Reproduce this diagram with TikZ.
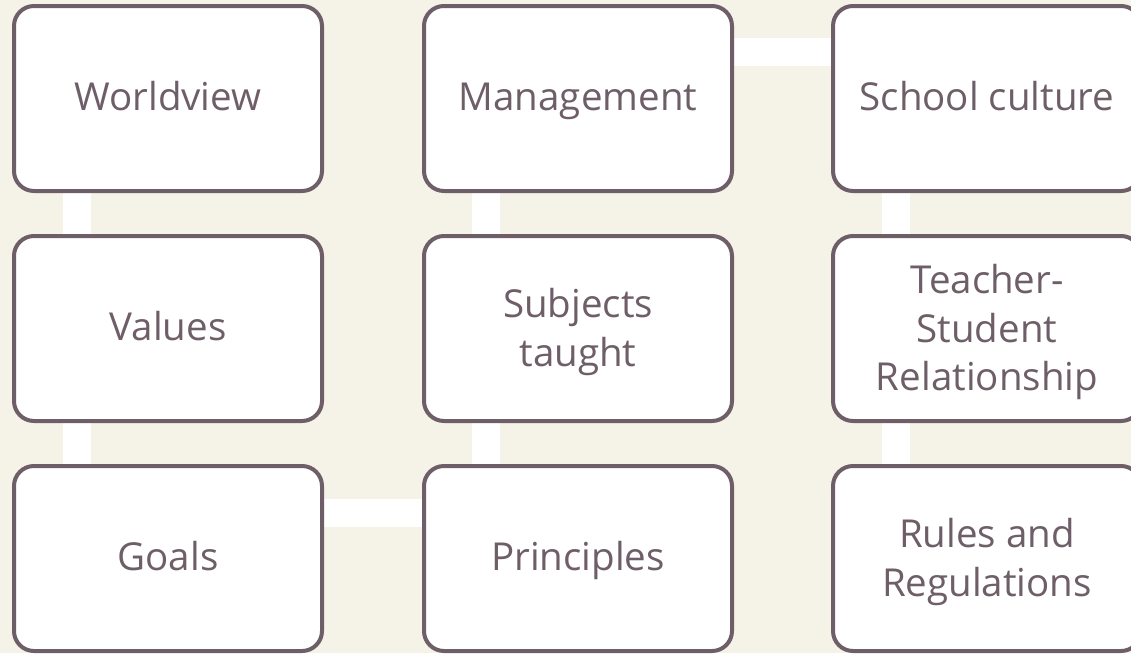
\documentclass[tikz,border=0pt]{standalone}
\usepackage{fontspec}
\setmainfont{Open Sans}
\definecolor{bgc}{HTML}{F5F2E7}
\definecolor{edge}{HTML}{6E5E68}
\pgfdeclarelayer{canvas}
\pgfdeclarelayer{links}
\pgfsetlayers{canvas,links,main}
\begin{document}
\begin{tikzpicture}[x=1pt,y=-1pt,
  box/.style={draw=edge,line width=4pt,fill=white,rounded corners=20pt,
    minimum width=308pt,minimum height=185pt,inner sep=0pt,
    text=edge,font=\fontsize{38.5}{48.5}\selectfont,align=center},
  oneline/.style={text height=29pt,text depth=6pt},
  multi/.style={text depth=2pt},
  link/.style={draw=white,line width=28pt}]
\useasboundingbox (0,0) rectangle (1131,653);
\clip (0,0) rectangle (1131,653);
\begin{pgfonlayer}{canvas}
\fill[bgc] (0,0) rectangle (1131,653);
\end{pgfonlayer}
\node[box,oneline] (world) at (168,98.5) {Worldview};
\node[box,oneline] (values) at (168,328.5) {Values};
\node[box,oneline] (goals) at (168,558.5) {Goals};
\node[box,oneline] (princ) at (578,558.5) {Principles};
\node[box,multi] (subj) at (578,328.5) {Subjects\\taught};
\node[box,oneline] (manage) at (578,98.5) {Management};
\node[box,oneline] (culture) at (987,98.5) {School culture};
\node[box,multi] (teach) at (987,328.5) {Teacher-\\Student\\Relationship};
\node[box,multi] (rules) at (987,558.5) {Rules and\\Regulations};
\coordinate (c1a) at ([xshift=-91pt]world.south);
\coordinate (c1b) at ([xshift=-91pt]values.north);
\coordinate (c1c) at ([xshift=-91pt]values.south);
\coordinate (c1d) at ([xshift=-91pt]goals.north);
\coordinate (c2a) at ([yshift=45.5pt]goals.east);
\coordinate (c2b) at ([yshift=45.5pt]princ.west);
\coordinate (c3a) at ([xshift=-92pt]princ.north);
\coordinate (c3b) at ([xshift=-92pt]subj.south);
\coordinate (c3c) at ([xshift=-92pt]subj.north);
\coordinate (c3d) at ([xshift=-92pt]manage.south);
\coordinate (c4a) at ([yshift=46.5pt]manage.east);
\coordinate (c4b) at ([yshift=46.5pt]culture.west);
\coordinate (c5a) at ([xshift=-91pt]culture.south);
\coordinate (c5b) at ([xshift=-91pt]teach.north);
\coordinate (c5c) at ([xshift=-91pt]teach.south);
\coordinate (c5d) at ([xshift=-91pt]rules.north);
\begin{pgfonlayer}{links}
\draw[link] (c1a) -- (c1b);
\draw[link] (c1c) -- (c1d);
\draw[link] (c2a) -- (c2b);
\draw[link] (c3a) -- (c3b);
\draw[link] (c3c) -- (c3d);
\draw[link] (c4a) -- (c4b);
\draw[link] (c5a) -- (c5b);
\draw[link] (c5c) -- (c5d);
\end{pgfonlayer}
\end{tikzpicture}
\end{document}
